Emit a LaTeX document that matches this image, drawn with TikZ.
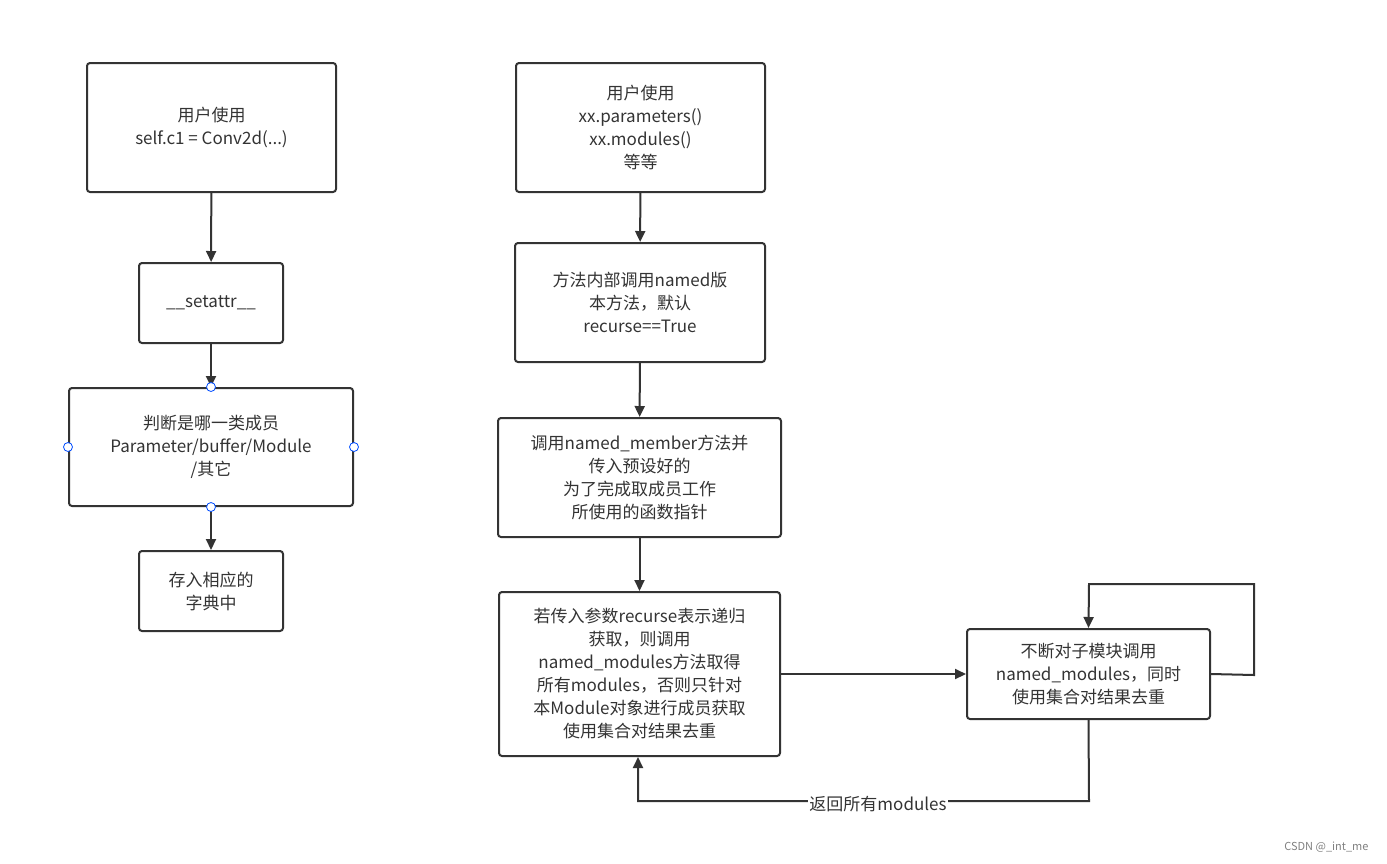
\documentclass[tikz,border=0pt]{standalone}
\usepackage{fontspec}
\setmainfont{Noto Sans CJK SC}
\usetikzlibrary{arrows.meta}
\definecolor{ln}{HTML}{333333}
\begin{document}
\begin{tikzpicture}[x=1pt,y=-1pt,
  box/.style={draw=ln,line width=2pt,rounded corners=3pt,align=center,font=\fontsize{17}{23}\selectfont,text=ln},
  arr/.style={draw=ln,line width=2pt,-{Triangle[length=11pt,width=10pt]}},
  dot/.style={circle,draw=blue!70!cyan,fill=white,line width=0.8pt,inner sep=0,minimum size=9pt}]
\useasboundingbox (0,0) rectangle (1387,863);
\node[box,minimum width=249pt,minimum height=129pt] (A) at (211.5,127.5) {用户使用\\self.c1 = Conv2d(...)};
\node[box,minimum width=144pt,minimum height=80pt] (B) at (211,303) {\_\_setattr\_\_};
\node[box,minimum width=284pt,minimum height=118pt] (C) at (211,447) {判断是哪一类成员\\Parameter/buffer/Module\\/其它};
\node[box,minimum width=144pt,minimum height=80pt] (D) at (211,591) {存入相应的\\字典中};
\node[box,minimum width=249pt,minimum height=129pt] (E) at (640.5,127.5) {用户使用\\xx.parameters()\\xx.modules()\\等等};
\node[box,minimum width=250pt,minimum height=119pt] (F) at (640,302.5) {方法内部调用named版\\本方法，默认\\recurse==True};
\node[box,minimum width=283pt,minimum height=119pt] (G) at (639.5,477.5) {调用named\_member方法并\\传入预设好的\\为了完成取成员工作\\所使用的函数指针};
\node[box,minimum width=281pt,minimum height=164pt] (H) at (639.5,674) {若传入参数recurse表示递归\\获取，则调用\\named\_modules方法取得\\所有modules，否则只针对\\本Module对象进行成员获取\\使用集合对结果去重};
\node[box,minimum width=243pt,minimum height=90pt] (I) at (1088.5,674) {不断对子模块调用\\named\_modules，同时\\使用集合对结果去重};
\draw[arr] (A) -- (B);
\draw[arr] (B) -- (C);
\draw[arr] (C) -- (D);
\draw[arr] (E) -- (F);
\draw[arr] (F) -- (G);
\draw[arr] (G) -- (H);
\draw[arr] (H.east) -- (I.west);
\coordinate (l1) at (1254,675);
\coordinate (l2) at (1254,584);
\coordinate (l3) at (1089,584);
\draw[arr] (I.east) -- (l1) -- (l2) -- (l3) -- (I.north);
\coordinate (r1) at (1089,801);
\coordinate (r2) at (638,801);
\draw[arr] (I.south) -- (r1) -- (r2) -- (H.south -| r2);
\node[fill=white,inner sep=1pt,text=ln,font=\fontsize{17}{20}\selectfont] (lbl) at (878,804) {返回所有modules};
\node[dot] (c1) at (C.north) {};
\node[dot] (c2) at (C.west) {};
\node[dot] (c3) at (C.east) {};
\node[dot] (c4) at (C.south) {};
\node[text=gray,font=\fontsize{11}{13}\selectfont,anchor=east] (wm) at (1372,847) {CSDN @\_int\_me};
\end{tikzpicture}
\end{document}
